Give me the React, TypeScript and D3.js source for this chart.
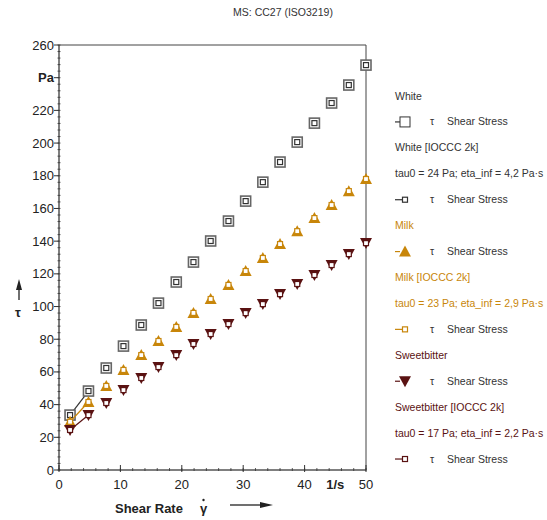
import React from "react"
import * as d3 from "d3"

// shear rate (1/s)
const shearRate = [1.8, 4.8, 7.7, 10.5, 13.4, 16.2, 19.1, 21.9, 24.7, 27.6, 30.4, 33.2, 36.0, 38.8, 41.6, 44.4, 47.2, 50.0]
// shear stress (Pa)
const white = [33.6, 48.3, 62.4, 75.8, 88.7, 102.1, 115.0, 127.2, 140.1, 152.3, 164.5, 176.1, 188.4, 200.6, 212.2, 224.5, 235.5, 247.7]
const milk = [29.5, 41.6, 51.4, 61.2, 70.3, 78.9, 87.5, 96.1, 104.6, 113.2, 121.7, 129.7, 138.2, 146.1, 154.1, 162.1, 170.6, 178.0]
const sweetbitter = [24.5, 33.6, 41.0, 48.9, 56.3, 63.0, 70.3, 77.1, 83.2, 89.3, 96.0, 101.5, 107.6, 113.8, 119.3, 125.4, 132.1, 138.8]

const yTicks = [0, 20, 40, 60, 80, 100, 120, 140, 160, 180, 200, 220, 240, 260]
const xTicks = [0, 10, 20, 30, 40, 50]

const legendRows = [
  { kind: "label", text: "White", color: "#333333" },
  { kind: "meas", marker: "square", color: "#333333" },
  { kind: "label", text: "White [IOCCC 2k]", color: "#333333" },
  { kind: "label", text: "tau0 = 24 Pa; eta_inf = 4,2 Pa·s", color: "#333333" },
  { kind: "fit", color: "#333333" },
  { kind: "label", text: "Milk", color: "#c8860a" },
  { kind: "meas", marker: "up", color: "#c8860a" },
  { kind: "label", text: "Milk [IOCCC 2k]", color: "#c8860a" },
  { kind: "label", text: "tau0 = 23 Pa; eta_inf = 2,9 Pa·s", color: "#c8860a" },
  { kind: "fit", color: "#c8860a" },
  { kind: "label", text: "Sweetbitter", color: "#5a1212" },
  { kind: "meas", marker: "down", color: "#5a1212" },
  { kind: "label", text: "Sweetbitter [IOCCC 2k]", color: "#5a1212" },
  { kind: "label", text: "tau0 = 17 Pa; eta_inf = 2,2 Pa·s", color: "#5a1212" },
  { kind: "fit", color: "#5a1212" },
]

const font = "'Liberation Sans', Arial, sans-serif"

const Marker = ({ type, x, y, color }) => {
  if (type === "square")
    return <rect x={x - 5} y={y - 5} width={10} height={10} fill="#fff" stroke="#666" strokeWidth={1.6} />
  if (type === "up")
    return <path d={`M${x},${y - 6}L${x + 6},${y + 5}L${x - 6},${y + 5}Z`} fill={color} />
  return <path d={`M${x - 6},${y - 5}L${x + 6},${y - 5}L${x},${y + 6}Z`} fill={color} />
}

const FitMark = ({ x, y, color }) => (
  <rect x={x - 2.5} y={y - 2.5} width={5} height={5} fill="#fff" stroke={color} strokeWidth={1.2} />
)

export default function App() {
  const left = 59, right = 366, top = 45, bottom = 470
  const x = d3.scaleLinear().domain([0, 50]).range([left, right])
  const y = d3.scaleLinear().domain([0, 260]).range([bottom, top])

  const series = [
    { values: white, marker: "square", color: "#333333" },
    { values: milk, marker: "up", color: "#c8860a" },
    { values: sweetbitter, marker: "down", color: "#5a1212" },
  ]
  const line = d3.line<number>().x((d, i) => x(shearRate[i])).y((d) => y(d))

  const yMinor = d3.range(0, 261, 4)
  const xMinor = d3.range(0, 51, 2)

  return (
    <svg width={547} height={520} style={{ position: "absolute", left: 0, top: 0, background: "#fff" }} fontFamily={font}>
      <text x={283} y={16} fontSize={10.5} textAnchor="middle" fill="#333">MS: CC27 (ISO3219)</text>

      {/* frame */}
      <path d={`M${left},${top}H${right}V${bottom}`} fill="none" stroke="#444" strokeWidth={1} />
      <line x1={left} x2={left} y1={top} y2={bottom} stroke="#555" strokeWidth={1.5} />
      <line x1={left} x2={right} y1={bottom} y2={bottom} stroke="#555" strokeWidth={1.5} />

      {yMinor.map((v) => (
        <line key={"ym" + v} x1={left - 1.5} x2={left + 1.5} y1={y(v)} y2={y(v)} stroke="#333" strokeWidth={0.8} />
      ))}
      {yTicks.map((v) => (
        <g key={"y" + v}>
          <line x1={left - 5} x2={left} y1={y(v)} y2={y(v)} stroke="#333" strokeWidth={1} />
          <text x={left - 5} y={y(v) + 4.5} fontSize={13} textAnchor="end" fill="#222" fontWeight={v === 240 ? "bold" : "normal"}>
            {v === 240 ? "Pa" : v}
          </text>
        </g>
      ))}

      {xMinor.map((v) => (
        <line key={"xm" + v} x1={x(v)} x2={x(v)} y1={bottom - 2} y2={bottom + 1} stroke="#333" strokeWidth={0.8} />
      ))}
      {xTicks.map((v) => (
        <g key={"x" + v}>
          <line x1={x(v)} x2={x(v)} y1={bottom - 5} y2={bottom + 2} stroke="#333" strokeWidth={1} />
          <text x={x(v)} y={bottom + 19} fontSize={13} textAnchor="middle" fill="#222">
            {v}
          </text>
        </g>
      ))}
      <text x={x(45)} y={bottom + 19} fontSize={13} textAnchor="middle" fontWeight="bold" fill="#222">1/s</text>

      {/* axis titles */}
      <text x={115} y={513} fontSize={13} fontWeight="bold" fill="#222">Shear Rate</text>
      <text x={200} y={513} fontSize={13} fontWeight="bold" fill="#222">γ</text>
      <circle cx={203.5} cy={500} r={1.2} fill="#222" />
      <line x1={230} x2={262} y1={505} y2={505} stroke="#222" strokeWidth={1.3} />
      <path d="M260,502L273,505L260,508Z" fill="#222" />

      <text x={18} y={317} fontSize={13} fontWeight="bold" textAnchor="middle" fill="#222">τ</text>
      <line x1={19} x2={19} y1={300} y2={288} stroke="#222" strokeWidth={1.3} />
      <path d="M16,290L19,279L22,290Z" fill="#222" />

      {/* data */}
      {series.map((s, si) => (
        <g key={"s" + si}>
          <path d={line(s.values.slice(0, 2)) || ""} fill="none" stroke={s.color} strokeWidth={1.2} />
          {s.values.map((v, i) => (
            <Marker key={i} type={s.marker} x={x(shearRate[i])} y={y(v)} color={s.color} />
          ))}
          {s.values.map((v, i) => (
            <FitMark key={"f" + i} x={x(shearRate[i])} y={y(v)} color={s.color} />
          ))}
        </g>
      ))}

      {/* legend */}
      {legendRows.map((r, i) => {
        const ly = 96 + i * 25.93
        if (r.kind === "label")
          return <text key={"l" + i} x={395} y={ly + 3.5} fontSize={10.5} fill={r.color}>{r.text}</text>
        return (
          <g key={"l" + i}>
            <line x1={395} x2={r.kind === "fit" ? 403 : 400} y1={ly} y2={ly} stroke={r.color} strokeWidth={1.2} />
            {r.kind === "fit" ? (
              <FitMark x={405} y={ly} color={r.color} />
            ) : r.marker === "square" ? (
              <rect x={400} y={ly - 5} width={10} height={10} fill="#fff" stroke="#333" strokeWidth={1} />
            ) : (
              <Marker type={r.marker} x={405} y={ly} color={r.color} />
            )}
            <text x={430} y={ly + 3.5} fontSize={10.5} fill="#333">τ</text>
            <text x={447} y={ly + 3.5} fontSize={10.5} fill="#333">Shear Stress</text>
          </g>
        )
      })}
    </svg>
  )
}
